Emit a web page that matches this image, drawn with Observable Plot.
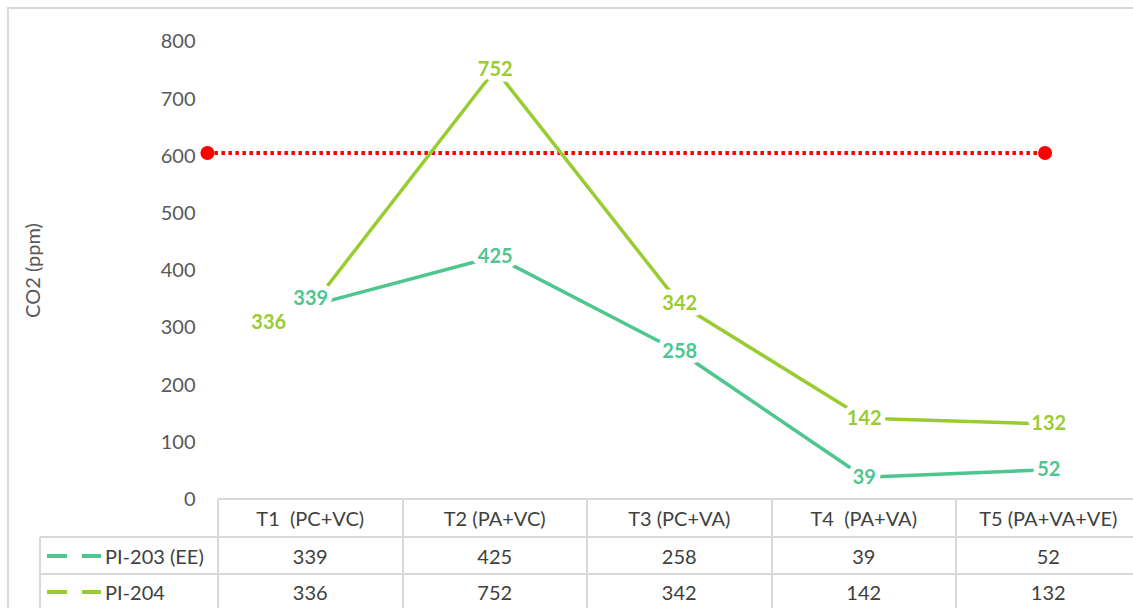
<!DOCTYPE html>
<html><head><meta charset="utf-8">
<script src="https://cdn.jsdelivr.net/npm/d3@7"></script>
<script src="https://cdn.jsdelivr.net/npm/@observablehq/plot@0.6"></script>
<style>
body{margin:0;background:#fff;font-family:Lato,"Open Sans",sans-serif;}
#wrap{position:relative;width:1133px;height:608px;overflow:hidden;background:#fff;}
#frame{position:absolute;left:7px;top:7px;width:1300px;height:700px;border-left:2px solid #d9d9d9;border-top:2px solid #d9d9d9;}
#chart{position:absolute;left:0;top:0;}
.cell{position:absolute;box-sizing:border-box;display:flex;align-items:center;justify-content:center;font-size:20px;color:#404040;white-space:pre;}
.gl{position:absolute;background:#d9d9d9;}
</style></head><body>
<div id="wrap"><div id="frame"></div><div id="chart"></div></div>
<script>
// ---- data ----
const categories = ["T1  (PC+VC)", "T2 (PA+VC)", "T3 (PC+VA)", "T4  (PA+VA)", "T5 (PA+VA+VE)"];
const seriesNames = ["PI-203 (EE)", "PI-204"];
const pi203 = [339, 425, 258, 39, 52];
const pi204 = [336, 752, 342, 142, 132];
const yTicks = [0, 100, 200, 300, 400, 500, 600, 700, 800];
const thresholdValue = 606;
const thresholdSpan = [0.44, 4.98]; // in category-index units

const colors = {"PI-203 (EE)": "#4DC68F", "PI-204": "#99CC33"};

const rows = [];
categories.forEach((c, i) => {
  rows.push({series: seriesNames[0], idx: i + 1, cat: c, value: pi203[i]});
  rows.push({series: seriesNames[1], idx: i + 1, cat: c, value: pi204[i]});
});
const thresholdRows = thresholdSpan.map(x => ({x, y: thresholdValue}));

const labelBase = {
  x: "idx", y: "value", text: d => String(d.value),
  fill: d => colors[d.series], stroke: "white", strokeWidth: 11,
  fontWeight: "bold", fontSize: 20
};

const plot = Plot.plot({
  width: 1133, height: 512,
  marginLeft: 218, marginTop: 41, marginBottom: 13, marginRight: 0,
  style: {fontFamily: "Lato, 'Open Sans', sans-serif", fontSize: "20px", color: "#595959", background: "transparent", overflow: "visible"},
  x: {domain: [0.5, 5.5], range: [218, 1140.5], axis: null},
  y: {domain: [0, 800], range: [499, 41.5]},
  marks: [
    Plot.axisY({ticks: yTicks, tickSize: 0, tickPadding: 23, fontSize: 20, fill: "#595959",
      label: "CO2 (ppm)", labelAnchor: "center", labelOffset: 193, labelArrow: "none"}),
    Plot.line(thresholdRows, {x: "x", y: "y", stroke: "#FF0000", strokeWidth: 4, strokeDasharray: "3.5,3.5", strokeLinecap: "butt"}),
    Plot.dot(thresholdRows, {x: "x", y: "y", r: 7, fill: "#FF0000"}),
    Plot.line(rows, {x: "idx", y: "value", z: "series", stroke: d => colors[d.series], strokeWidth: 3.5}),
    Plot.text(rows.filter(d => d.idx !== 1), labelBase),
    Plot.text(rows.filter(d => d.idx === 1 && d.series === seriesNames[0]), {...labelBase, dy: -7}),
    Plot.text(rows.filter(d => d.idx === 1 && d.series === seriesNames[1]), {...labelBase, dx: -42, dy: 15})
  ]
});
document.getElementById("chart").appendChild(plot);

// ---- data table below the plot area ----
const wrap = document.getElementById("wrap");
const xs = plot.scale("x");
const X = v => xs.apply(v);
const tableTop = 499, row1 = 537, row2 = 574, bottom = 640, leftEdge = 40;
function gl(l, t, w, h) { const e = document.createElement("div"); e.className = "gl"; Object.assign(e.style, {left: l + "px", top: t + "px", width: w + "px", height: h + "px"}); wrap.appendChild(e); }
function cell(l, t, w, h, txt, extra) { const e = document.createElement("div"); e.className = "cell"; Object.assign(e.style, {left: l + "px", top: t + "px", width: w + "px", height: h + "px"}, extra || {}); e.textContent = txt; wrap.appendChild(e); return e; }

const x0 = X(0.5);
gl(x0, tableTop - 1, 1133 - x0, 2);
gl(leftEdge, row1 - 1, 1133 - leftEdge, 2);
gl(leftEdge, row2 - 1, 1133 - leftEdge, 2);
gl(leftEdge - 1, row1, 2, bottom - row1);
for (let i = 0; i <= categories.length; i++) gl(X(i + 0.5) - 1, tableTop, 2, bottom - tableTop);

categories.forEach((c, i) => {
  const l = X(i + 0.5), r = X(i + 1.5);
  cell(l, tableTop, r - l, row1 - tableTop, c);
  cell(l, row1, r - l, row2 - row1, String(pi203[i]));
  cell(l, row2, r - l, 36, String(pi204[i]));
});
[[seriesNames[0], row1, row2 - row1], [seriesNames[1], row2, 36]].forEach(([name, t, h]) => {
  const e = cell(leftEdge, t, x0 - leftEdge, h, "", {justifyContent: "flex-start"});
  const key = document.createElementNS("http://www.w3.org/2000/svg", "svg");
  key.setAttribute("width", "65"); key.setAttribute("height", "10");
  key.style.flex = "none";
  key.innerHTML = `<line x1="7" x2="61" y1="5" y2="5" stroke="${colors[name]}" stroke-width="4" stroke-dasharray="20,15"/>`;
  e.appendChild(key);
  const s = document.createElement("span"); s.textContent = name; e.appendChild(s);
});
</script>
</body></html>
